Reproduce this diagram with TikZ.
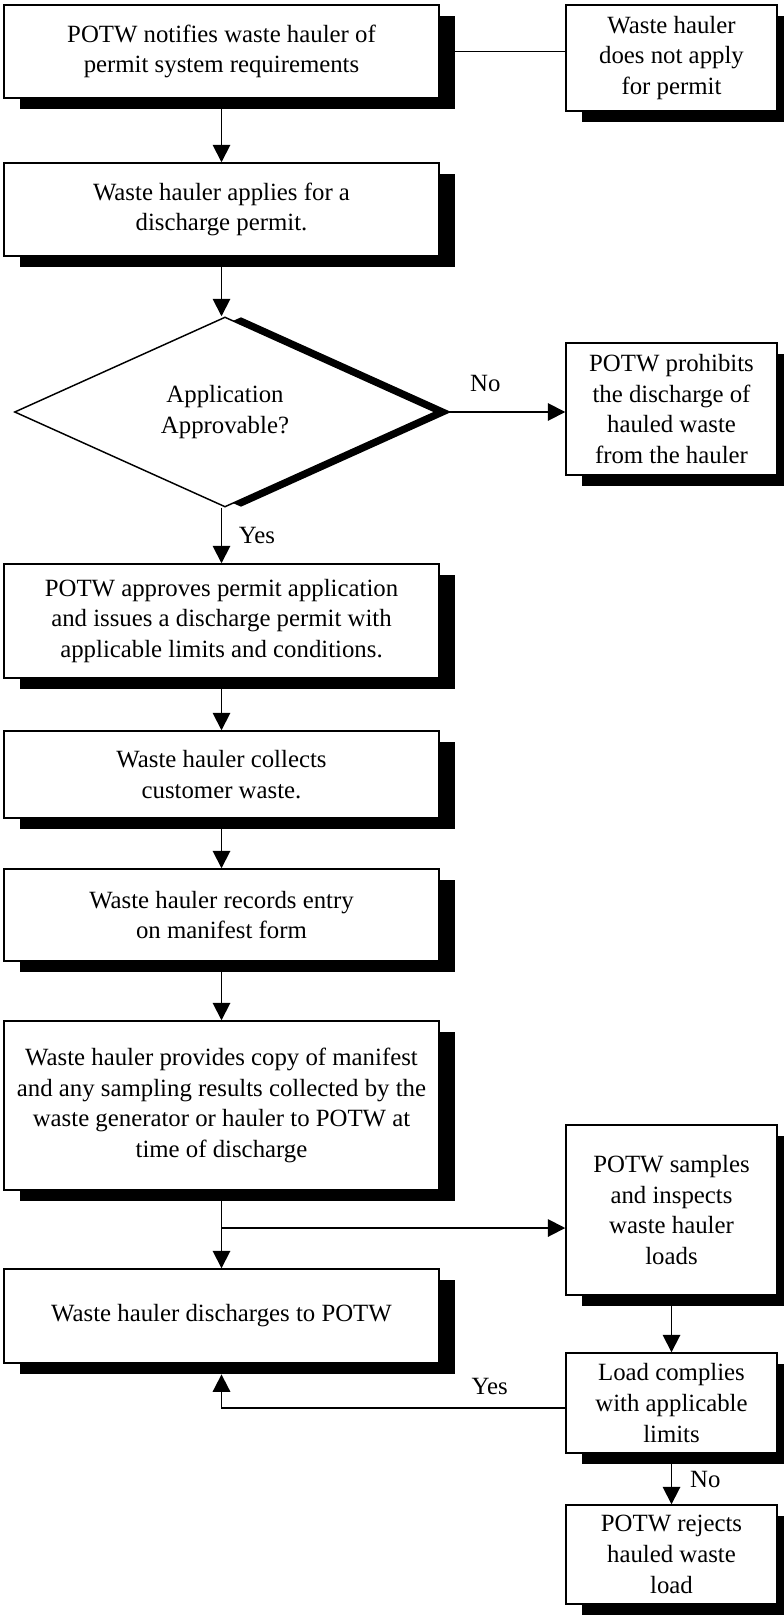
\documentclass[tikz,border=0pt]{standalone}
\usepackage{fontspec}
\setmainfont{Liberation Serif}
\usetikzlibrary{shapes.geometric,shadows,arrows.meta,positioning}
\tikzset{
    flowbox/.style={draw, fill=white, line width=1.1pt, align=center, inner sep=2pt,
        minimum width=326.25pt,
        drop shadow={shadow xshift=12pt, shadow yshift=-8pt, fill=black, opacity=1}},
    sidebox/.style={flowbox, minimum width=158.25pt},
    flowline/.style={line width=1.4pt},
    flowarrow/.style={flowline, -{Triangle[length=13pt, width=13pt]}},
}

\begin{document}
\begin{tikzpicture}[x=0.75pt, y=-0.75pt, every node/.style={font=\fontsize{18.6}{23}\selectfont}]
    \useasboundingbox (0,0) rectangle (783,1615);
    % main column
    \node[flowbox, minimum height=69.75pt] (notify) at (221.5,51.5) {POTW notifies waste hauler of\\permit system requirements};
    \node[flowbox, minimum height=69.75pt] (apply) at (221.5,209.5) {Waste hauler applies for a\\discharge permit.};
    \node[draw, fill=white, line width=1.1pt, shape=diamond, align=center, inner sep=0pt,
        minimum width=315.75pt, minimum height=142.5pt,
        drop shadow={shadow xshift=12pt, shadow yshift=0pt, fill=black, opacity=1}] (decide) at (225,412) {Application\\Approvable?};
    \node[flowbox, minimum height=85.5pt] (approve) at (221.5,621) {POTW approves permit application\\and issues a discharge permit with\\applicable limits and conditions.};
    \node[flowbox, minimum height=65.25pt] (collect) at (221.5,774.5) {Waste hauler collects\\customer waste.};
    \node[flowbox, minimum height=69pt] (record) at (221.5,915) {Waste hauler records entry\\on manifest form};
    \node[flowbox, minimum height=126.75pt] (provide) at (221.5,1105.5) {Waste hauler provides copy of manifest\\and any sampling results collected by the\\waste generator or hauler to POTW at\\time of discharge};
    \node[flowbox, minimum height=70.5pt] (discharge) at (221.5,1316) {Waste hauler discharges to POTW};
    % right column
    \node[sidebox, minimum height=79.5pt] (noapply) at (671.5,58) {Waste hauler\\does not apply\\for permit};
    \node[sidebox, minimum height=99pt] (prohibit) at (671.5,409) {POTW prohibits\\the discharge of\\hauled waste\\from the hauler};
    \node[sidebox, minimum height=127.5pt] (sample) at (671.5,1210) {POTW samples\\and inspects\\waste hauler\\loads};
    \node[sidebox, minimum height=75pt] (comply) at (671.5,1403) {Load complies\\with applicable\\limits};
    \node[sidebox, minimum height=74.25pt] (reject) at (671.5,1554.5) {POTW rejects\\hauled waste\\load};
    \coordinate (split) at (221.5,1228);
    % connectors
    \draw[flowline] (notify.east) -- (notify.east -| noapply.west);
    \draw[flowarrow] (notify) -- (apply);
    \draw[flowarrow] (apply.south) -- (apply.south |- decide.north);
    \draw[flowarrow] (decide.east) -- (decide.east -| prohibit.west) node[pos=0.38, above=11pt] {No};
    \draw[flowarrow] (approve.north |- decide.south) -- (approve.north) node[midway, right=9pt] {Yes};
    \draw[flowarrow] (approve) -- (collect);
    \draw[flowarrow] (collect) -- (record);
    \draw[flowarrow] (record) -- (provide);
    \draw[flowarrow] (provide) -- (discharge);
    \draw[flowarrow] (split) -- (split -| sample.west);
    \draw[flowarrow] (sample) -- (comply);
    \draw[flowarrow, shorten >=8pt] ([yshift=-3.75pt]comply.west) -| (discharge.south) node[pos=0.11, above=6pt] {Yes};
    \draw[flowarrow] (comply) -- (reject) node[midway, right=10pt] {No};
\end{tikzpicture}
\end{document}
